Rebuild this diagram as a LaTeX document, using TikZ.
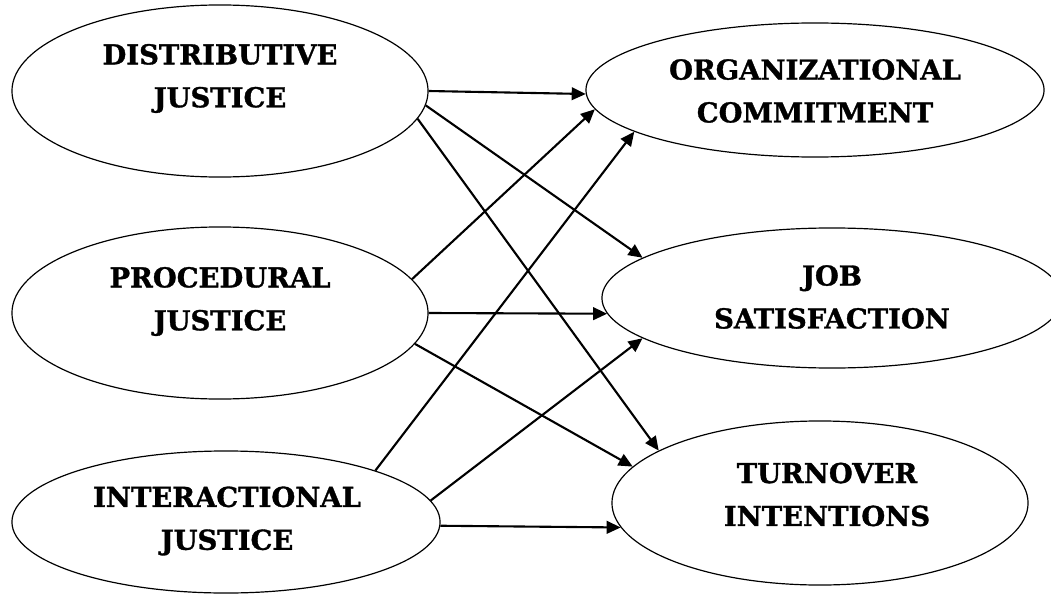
\documentclass[tikz,border=0pt]{standalone}
\usepackage{fontspec}
\setmainfont{DejaVu Serif}
\newfontfamily\heavyserif{DejaVu Serif}[UprightFont=* Bold, FakeBold=1.2]
\usetikzlibrary{shapes.geometric,arrows.meta}
\begin{document}
\begin{tikzpicture}[x=0.025cm,y=0.025cm,
  ell/.style={draw, ellipse, line width=0.85pt, inner sep=0pt},
  lbl/.style={font=\heavyserif\fontsize{19.5}{30.5}\selectfont, align=center, inner sep=0pt},
  arr/.style={line width=1.5pt, -{Triangle[length=10pt,width=9pt]}}]
\useasboundingbox (0,0) rectangle (1051,594);
\clip (0,0) rectangle (1051,594);
% left ellipses
\node[ell, minimum width=10.4cm, minimum height=4.3cm] (d) at (220,503) {};
\node[ell, minimum width=10.4cm, minimum height=4.3cm] (p) at (220,281) {};
\node[ell, minimum width=10.7cm, minimum height=3.55cm] (i) at (226,72) {};
% right ellipses
\node[ell, minimum width=11.45cm, minimum height=3.35cm] (oc) at (815,504) {};
\node[ell, minimum width=11.5cm, minimum height=3.5cm] (js) at (832,296) {};
\node[ell, minimum width=10.4cm, minimum height=4.1cm] (ti) at (820,91) {};
% labels
\node[lbl] (dt) at (220,515.5) {DISTRIBUTIVE\\JUSTICE};
\node[lbl] (pt) at (220,292.5) {PROCEDURAL\\JUSTICE};
\node[lbl] (it) at (227,73) {INTERACTIONAL\\JUSTICE};
\node[lbl] (oct) at (815,503) {ORGANIZATIONAL\\COMMITMENT};
\node[lbl] (jst) at (832,297) {JOB\\SATISFACTION};
\node[lbl] (tit) at (827,99.5) {TURNOVER\\INTENTIONS};
% arrows
\draw[arr] (d.-0.5) -- (oc.-179.5);
\draw[arr] (d.-4.5) -- (js.168.4);
\draw[arr] (d.-8.9) -- (ti.162.5);
\draw[arr] (p.10.7) -- (oc.-175.4);
\draw[arr] (p.0.3) -- (js.-176.4);
\draw[arr] (p.-9.3) -- (ti.169.4);
\draw[arr] (i.19) -- (oc.-167.5);
\draw[arr] (i.6.5) -- (js.-168.1);
\draw[arr] (i.-1) -- (ti.-173);
\end{tikzpicture}
\end{document}
